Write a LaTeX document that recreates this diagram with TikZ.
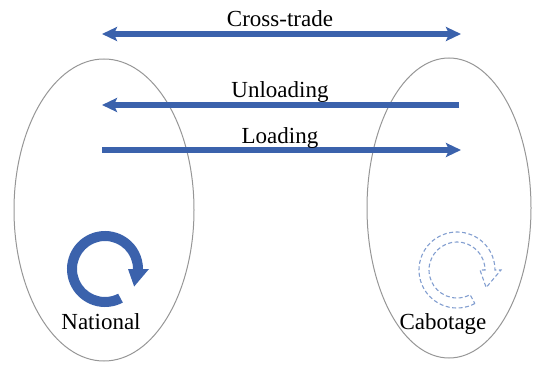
\documentclass[tikz,border=0pt]{standalone}
\usepackage{fontspec}
\setmainfont{Liberation Serif}
\newfontfamily\labelfont{Liberation Serif}
\usetikzlibrary{arrows.meta,shapes.geometric}
\definecolor{flowblue}{RGB}{59,98,172}
\definecolor{paleblue}{RGB}{130,158,208}
\definecolor{rimgray}{RGB}{150,150,150}
\tikzset{
  region/.style={draw=rimgray, line width=1pt, ellipse, inner sep=0pt},
  flow/.style={draw=flowblue, line width=6.5pt},
  flowtip/.style={-{Stealth[length=15pt,width=14pt,inset=3pt]}},
  lbl/.style={font=\labelfont\fontsize{23}{26}\selectfont, anchor=base, inner sep=0pt},
  % hollow-outline circular arrow, drawn around a centre point
  pics/cyclearrow/.style={code={
    \path[#1] (-62:38) arc[start angle=-62, end angle=-360, radius=38]
      -- (0:44) -- (-31:34) -- (0:23) -- (0:28)
      arc[start angle=-360, end angle=-62, radius=28] -- cycle;
  }}
}
\begin{document}
\begin{tikzpicture}[x=1pt,y=1pt]
\useasboundingbox (0,0) rectangle (541,365);

% the two regions
\node[region, minimum width=180pt, minimum height=302pt] (nat) at (104,155) {};
\node[region, minimum width=164pt, minimum height=300pt] (cab) at (449,157) {};

% flow end points
\coordinate (ctL) at (102,331);
\coordinate (ctR) at (461,331);
\coordinate (ulL) at (102,260);
\coordinate (ulR) at (459,260);
\coordinate (ldL) at (102,215);
\coordinate (ldR) at (461,215);

\draw[flow, {Stealth[length=15pt,width=14pt,inset=3pt]}-{Stealth[length=15pt,width=14pt,inset=3pt]}] (ctL) -- (ctR);
\draw[flow, flowtip] (ulR) -- (ulL);
\draw[flow, flowtip] (ldL) -- (ldR);

\node[lbl] (ct) at (280,338) {Cross-trade};
\node[lbl] (ul) at (280,268) {Unloading};
\node[lbl] (ld) at (280,222) {Loading};

% circular arrows inside the regions
\pic at (105,96) {cyclearrow={fill=flowblue}};
\pic at (457,95) {cyclearrow={draw=paleblue, line width=1.1pt, dash pattern=on 4pt off 2.5pt}};

\node[lbl] (natlbl) at (101,36) {National};
\node[lbl] (cablbl) at (443,36) {Cabotage};
\end{tikzpicture}
\end{document}
